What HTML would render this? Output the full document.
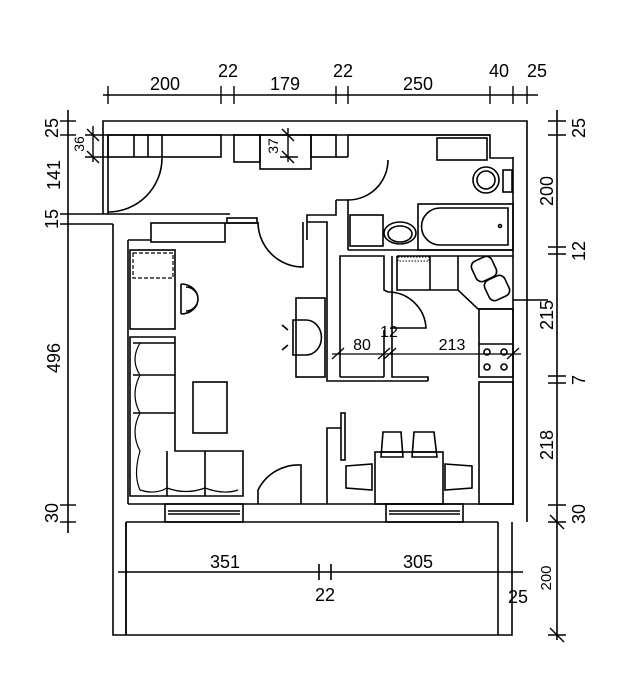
<!DOCTYPE html>
<html><head><meta charset="utf-8"><style>html,body{margin:0;padding:0;background:#fff}svg{display:block}</style></head>
<body>
<svg width="633" height="690" viewBox="0 0 633 690" xmlns="http://www.w3.org/2000/svg" font-family="Liberation Sans, sans-serif" fill="none" stroke="#000" stroke-width="1.6">
<!-- dimension top -->
<line x1="103" y1="95" x2="538" y2="95"/>
<g stroke-width="1.4">
<line x1="108" y1="86" x2="108" y2="104"/><line x1="221" y1="86" x2="221" y2="104"/><line x1="234" y1="86" x2="234" y2="104"/>
<line x1="336" y1="86" x2="336" y2="104"/><line x1="348" y1="86" x2="348" y2="104"/><line x1="490" y1="86" x2="490" y2="104"/>
<line x1="513" y1="86" x2="513" y2="104"/><line x1="527" y1="86" x2="527" y2="104"/>
</g>
<g fill="#000" stroke="none" font-size="18" text-anchor="middle">
<text x="165" y="90">200</text><text x="228" y="77">22</text><text x="285" y="90">179</text><text x="343" y="77">22</text>
<text x="418" y="90">250</text><text x="499" y="77">40</text><text x="537" y="77">25</text>
</g>
<!-- right dims -->
<line x1="557" y1="110" x2="557" y2="640"/>
<g stroke-width="1.4">
<line x1="548" y1="121" x2="566" y2="121"/><line x1="548" y1="135" x2="566" y2="135"/>
<line x1="548" y1="247" x2="566" y2="247"/><line x1="548" y1="254" x2="566" y2="254"/>
<line x1="548" y1="376" x2="566" y2="376"/><line x1="548" y1="383" x2="566" y2="383"/>
<line x1="548" y1="505" x2="566" y2="505"/>
<line x1="550" y1="515" x2="564" y2="529"/><line x1="550" y1="628" x2="564" y2="642"/>
<line x1="548" y1="522" x2="566" y2="522"/><line x1="548" y1="635" x2="566" y2="635"/>
</g>
<g fill="#000" stroke="none" font-size="18" text-anchor="middle">
<text transform="translate(585,128) rotate(-90)">25</text>
<text transform="translate(553,191) rotate(-90)">200</text>
<text transform="translate(585,251) rotate(-90)">12</text>
<text transform="translate(553,315) rotate(-90)">215</text>
<text transform="translate(585,380) rotate(-90)">7</text>
<text transform="translate(553,445) rotate(-90)">218</text>
<text transform="translate(585,514) rotate(-90)">30</text>
<text transform="translate(551,578) rotate(-90)" font-size="15">200</text>
</g>
<!-- left dims -->
<line x1="68" y1="110" x2="68" y2="533"/>
<g stroke-width="1.4">
<line x1="60" y1="121" x2="76" y2="121"/><line x1="60" y1="135" x2="76" y2="135"/>
<line x1="60" y1="214" x2="230" y2="214"/><line x1="60" y1="224" x2="113" y2="224"/>
<line x1="60" y1="505" x2="76" y2="505"/><line x1="60" y1="522" x2="76" y2="522"/>
<line x1="85" y1="135" x2="108" y2="135"/><line x1="85" y1="157" x2="108" y2="157"/>
<line x1="93" y1="126" x2="93" y2="162"/>
<line x1="87" y1="129" x2="99" y2="141"/><line x1="87" y1="151" x2="99" y2="163"/>
<line x1="288" y1="128" x2="288" y2="162"/><line x1="282" y1="129" x2="294" y2="141"/><line x1="282" y1="151" x2="294" y2="163"/>
<line x1="280" y1="157" x2="298" y2="157"/>
</g>
<g fill="#000" stroke="none" font-size="18" text-anchor="middle">
<text transform="translate(58,128) rotate(-90)">25</text>
<text transform="translate(60,175) rotate(-90)">141</text>
<text transform="translate(84,144) rotate(-90)" font-size="14">36</text>
<text transform="translate(278,146) rotate(-90)" font-size="14">37</text>
<text transform="translate(58,219) rotate(-90)">15</text>
<text transform="translate(60,358) rotate(-90)">496</text>
<text transform="translate(58,513) rotate(-90)">30</text>
</g>
<!-- outer building -->
<polyline points="103,214 103,121 527,121 527,522"/>
<polyline points="113,224 113,635 512,635 512,522"/>
<polyline points="126,522 126,635 M0,0"/>
<line x1="126" y1="522" x2="126" y2="635"/>
<line x1="498" y1="522" x2="498" y2="635"/>
<line x1="126" y1="522" x2="498" y2="522"/>
<line x1="513" y1="157" x2="513" y2="505"/>
<line x1="128" y1="504" x2="513" y2="504"/>
<line x1="128" y1="240" x2="128" y2="504"/>
<line x1="128" y1="240" x2="151" y2="240"/>
<!-- hall -->
<line x1="108" y1="135" x2="490" y2="135"/>
<line x1="108" y1="135" x2="108" y2="214"/>
<rect x="108" y="135" width="113" height="22"/>
<line x1="134" y1="135" x2="134" y2="157"/><line x1="148" y1="135" x2="148" y2="157"/><line x1="162" y1="135" x2="162" y2="157"/>
<rect x="234" y="135" width="26" height="27"/>
<rect x="260" y="135" width="51" height="34"/>
<rect x="311" y="135" width="25" height="22"/>
<path d="M162 158 A54 54 0 0 1 108 212"/>
<polyline points="336,157 345,157 348,157"/>
<polyline points="348,135 348,157"/>
<polyline points="336,200 348,200 348,250"/>
<polyline points="336,200 336,215 307,215 307,240"/>
<path d="M388 160 A40 40 0 0 1 348 200"/>
<rect x="151" y="223" width="74" height="19"/>
<rect x="227" y="218" width="30" height="5"/>
<line x1="225" y1="223" x2="258" y2="223"/>
<path d="M258 222 A45 45 0 0 0 303 267 L303 222"/>
<polyline points="307,222 327,222 327,381 428,381"/>
<!-- bathroom -->
<polyline points="348,135 490,135 490,158 513,158"/>
<rect x="437" y="138" width="50" height="22"/>
<circle cx="486" cy="180" r="13"/><circle cx="486" cy="180" r="9"/>
<rect x="503" y="170" width="9" height="22"/>
<rect x="418" y="204" width="95" height="46"/>
<path d="M440 208 L508 208 L508 245 L440 245 A18 18 0 0 1 440 208Z"/>
<circle cx="500" cy="226" r="1.5"/>
<ellipse cx="400" cy="233" rx="16" ry="11"/><ellipse cx="400" cy="234" rx="12" ry="8"/>
<rect x="350" y="215" width="33" height="31"/>
<line x1="348" y1="250" x2="513" y2="250"/>
<!-- closet -->
<polyline points="340,377 340,256 384,256 384,290 388,292"/>
<line x1="340" y1="377" x2="384" y2="377"/>
<polyline points="384,377 384,330"/>
<polyline points="392,256 392,377 428,377 428,381"/>
<path d="M388 292 A38 38 0 0 1 426 328 L392 328"/>
<!-- kitchen -->
<polyline points="397,256 513,256"/>
<polyline points="397,256 397,290 458,290 478,309 513,309"/>
<line x1="430" y1="256" x2="430" y2="290"/>
<rect x="398" y="257" width="31" height="4" stroke-width="1" stroke-dasharray="1.5,1.5"/>
<line x1="458" y1="256" x2="458" y2="290"/>
<rect x="473" y="258" width="22" height="22" rx="6" transform="rotate(-25 484 269)"/>
<rect x="486" y="277" width="22" height="22" rx="6" transform="rotate(-25 497 288)"/>
<line x1="513" y1="300" x2="548" y2="300"/>
<rect x="479" y="309" width="34" height="68"/>
<line x1="479" y1="344" x2="513" y2="344"/>
<circle cx="487" cy="352" r="3"/><circle cx="504" cy="352" r="3"/><circle cx="487" cy="367" r="3"/><circle cx="504" cy="367" r="3"/>
<rect x="479" y="382" width="34" height="122"/>
<!-- kitchen dims -->
<line x1="332" y1="354" x2="521" y2="354" stroke-width="1.3"/>
<g stroke-width="1.3"><line x1="332" y1="359" x2="344" y2="348"/><line x1="378" y1="359" x2="390" y2="348"/><line x1="384" y1="359" x2="396" y2="348"/><line x1="507" y1="359" x2="519" y2="348"/></g>
<g fill="#000" stroke="none" font-size="16" text-anchor="middle"><text x="362" y="350">80</text><text x="389" y="337">12</text><text x="452" y="350">213</text></g>
<!-- dining -->
<polyline points="327,504 327,428 341,428"/>
<rect x="341" y="413" width="4" height="47"/>
<rect x="375" y="452" width="68" height="52"/>
<path d="M381 457 L383 432 L401 432 L403 457Z M381 452 L403 452"/>
<path d="M412 457 L414 432 L434 432 L437 457Z M412 452 L437 452"/>
<path d="M346 466 L372 464 L372 490 L346 488Z"/>
<path d="M445 464 L472 466 L472 488 L445 490Z"/>
<!-- living furniture -->
<rect x="130" y="250" width="45" height="79"/>
<rect x="133" y="253" width="40" height="25" stroke-width="1.2" stroke-dasharray="4,2"/>
<path d="M181 284 A17 15 0 0 1 181 314 M181 284 L181 314 M186 287 A12 12 0 0 1 186 311"/>
<path d="M130 337 L175 337 L175 451 L243 451 L243 496 L130 496Z"/>
<path d="M133 343 L175 343 M133 375 L175 375 M133 413 L175 413 M167 451 L167 496 M205 451 L205 496"/>
<path d="M140 343 Q130 360 140 375 Q130 395 140 413 Q130 432 140 451 Q133 475 140 490 Q155 495 167 488 Q186 495 205 488 Q224 495 238 490" stroke-width="1.2"/>
<rect x="193" y="382" width="34" height="51"/>
<rect x="296" y="298" width="29" height="79"/>
<path d="M293 320 L306 320 A15 17 0 0 1 306 355 L293 355Z"/>
<line x1="282" y1="325" x2="288" y2="330"/><line x1="282" y1="350" x2="288" y2="345"/>
<!-- balcony door -->
<path d="M258 504 L258 490 A45 45 0 0 1 301 465 L301 504"/>
<!-- windows -->
<rect x="165" y="504" width="78" height="18"/><line x1="168" y1="511" x2="240" y2="511"/><line x1="168" y1="514" x2="240" y2="514"/>
<rect x="386" y="504" width="77" height="18"/><line x1="389" y1="511" x2="460" y2="511"/><line x1="389" y1="514" x2="460" y2="514"/>
<!-- balcony dim -->
<line x1="118" y1="572" x2="523" y2="572" stroke-width="1.4"/>
<line x1="319" y1="564" x2="319" y2="580"/><line x1="331" y1="564" x2="331" y2="580"/>
<g fill="#000" stroke="none" font-size="18" text-anchor="middle"><text x="225" y="568">351</text><text x="418" y="568">305</text><text x="325" y="601">22</text><text x="518" y="603">25</text></g>
</svg>
</body></html>
